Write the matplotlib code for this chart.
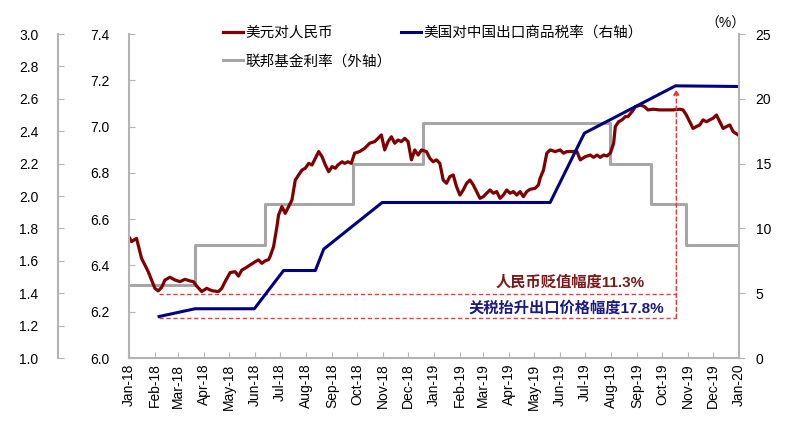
import pandas as pd
import numpy as np
import matplotlib
matplotlib.use("Agg")
import matplotlib.pyplot as plt
import matplotlib.dates as mdates

plt.rcParams['font.family'] = ['Liberation Sans', 'Noto Sans CJK SC', 'DejaVu Sans']
plt.rcParams['axes.unicode_minus'] = False

# USD/CNY (inner left axis)
cny_dates = [
    "2018-01-02", "2018-01-04", "2018-01-10", "2018-01-12", "2018-01-16", "2018-01-20", "2018-01-24",
    "2018-01-28", "2018-02-01", "2018-02-05", "2018-02-09", "2018-02-13", "2018-02-19", "2018-02-25",
    "2018-03-03", "2018-03-09", "2018-03-15", "2018-03-19", "2018-03-23", "2018-03-29", "2018-04-04",
    "2018-04-10", "2018-04-18", "2018-04-22", "2018-04-26", "2018-05-02", "2018-05-08", "2018-05-12",
    "2018-05-16", "2018-05-20", "2018-05-26", "2018-06-01", "2018-06-05", "2018-06-09", "2018-06-13",
    "2018-06-17", "2018-06-19", "2018-06-23", "2018-06-27", "2018-06-29", "2018-07-03", "2018-07-07",
    "2018-07-11", "2018-07-15", "2018-07-19", "2018-07-23", "2018-07-27", "2018-07-31", "2018-08-04",
    "2018-08-08", "2018-08-12", "2018-08-16", "2018-08-20", "2018-08-24", "2018-08-28", "2018-09-01",
    "2018-09-05", "2018-09-08", "2018-09-13", "2018-09-16", "2018-09-20", "2018-09-24", "2018-09-28",
    "2018-10-04", "2018-10-10", "2018-10-16", "2018-10-22", "2018-10-26", "2018-10-30", "2018-11-03",
    "2018-11-07", "2018-11-11", "2018-11-15", "2018-11-19", "2018-11-23", "2018-11-27", "2018-12-01",
    "2018-12-05", "2018-12-09", "2018-12-13", "2018-12-17", "2018-12-23", "2018-12-27", "2018-12-31",
    "2019-01-04", "2019-01-08", "2019-01-12", "2019-01-16", "2019-01-20", "2019-01-24", "2019-01-28",
    "2019-02-01", "2019-02-05", "2019-02-09", "2019-02-13", "2019-02-17", "2019-02-21", "2019-02-25",
    "2019-03-01", "2019-03-05", "2019-03-09", "2019-03-13", "2019-03-17", "2019-03-21", "2019-03-25",
    "2019-03-29", "2019-04-02", "2019-04-06", "2019-04-10", "2019-04-14", "2019-04-18", "2019-04-22",
    "2019-04-26", "2019-05-02", "2019-05-06", "2019-05-08", "2019-05-12", "2019-05-16", "2019-05-20",
    "2019-05-26", "2019-06-01", "2019-06-05", "2019-06-09", "2019-06-15", "2019-06-21", "2019-06-25",
    "2019-07-01", "2019-07-07", "2019-07-11", "2019-07-15", "2019-07-19", "2019-07-23", "2019-07-27",
    "2019-07-31", "2019-08-04", "2019-08-06", "2019-08-10", "2019-08-14", "2019-08-18", "2019-08-21",
    "2019-08-26", "2019-08-30", "2019-09-05", "2019-09-10", "2019-09-14", "2019-09-20", "2019-09-28",
    "2019-10-06", "2019-10-14", "2019-10-22", "2019-10-26", "2019-10-30", "2019-11-03", "2019-11-07",
    "2019-11-11", "2019-11-15", "2019-11-19", "2019-11-23", "2019-11-27", "2019-12-01", "2019-12-05",
    "2019-12-09", "2019-12-13", "2019-12-17", "2019-12-21", "2019-12-25", "2019-12-31",
]
cny_values = [
    6.517, 6.503, 6.517, 6.488, 6.431, 6.402, 6.373,
    6.337, 6.301, 6.290, 6.305, 6.337, 6.349, 6.337,
    6.330, 6.340, 6.333, 6.330, 6.311, 6.287, 6.301,
    6.291, 6.287, 6.301, 6.330, 6.369, 6.373, 6.354,
    6.380, 6.388, 6.402, 6.416, 6.424, 6.409, 6.420,
    6.425, 6.440, 6.481, 6.567, 6.618, 6.654, 6.625,
    6.654, 6.683, 6.769, 6.791, 6.812, 6.820, 6.841,
    6.834, 6.863, 6.892, 6.870, 6.834, 6.805, 6.827,
    6.820, 6.834, 6.848, 6.841, 6.848, 6.841, 6.885,
    6.892, 6.906, 6.928, 6.935, 6.949, 6.964, 6.899,
    6.935, 6.956, 6.928, 6.942, 6.935, 6.949, 6.935,
    6.856, 6.899, 6.877, 6.899, 6.892, 6.863, 6.848,
    6.856, 6.841, 6.769, 6.755, 6.784, 6.791, 6.740,
    6.704, 6.726, 6.755, 6.769, 6.748, 6.719, 6.690,
    6.697, 6.712, 6.726, 6.712, 6.719, 6.690, 6.704,
    6.726, 6.712, 6.719, 6.704, 6.719, 6.697, 6.719,
    6.729, 6.733, 6.748, 6.777, 6.812, 6.885, 6.899,
    6.892, 6.899, 6.885, 6.892, 6.892, 6.892, 6.856,
    6.870, 6.877, 6.867, 6.877, 6.867, 6.877, 6.873,
    6.885, 6.928, 7.000, 7.021, 7.029, 7.043, 7.043,
    7.064, 7.086, 7.093, 7.086, 7.072, 7.075, 7.072,
    7.072, 7.072, 7.075, 7.072, 7.050, 7.021, 6.992,
    7.000, 7.007, 7.029, 7.021, 7.029, 7.036, 7.050,
    7.021, 6.992, 7.000, 7.007, 6.978, 6.964,
]

# US tariff rate on Chinese goods (right axis, %)
tariff_dates = ["2018-02-06", "2018-03-21", "2018-05-31", "2018-07-05", "2018-08-12", "2018-08-22",
                "2018-10-31", "2019-05-20", "2019-06-30", "2019-10-17", "2019-12-31"]
tariff_values = [3.2, 3.8, 3.8, 6.75, 6.75, 8.4, 12.0, 12.0, 17.35, 21.0, 20.95]

# Fed funds rate (outer left axis, %)
fed_dates = ["2018-01-01", "2018-03-21", "2018-06-13", "2018-09-26", "2018-12-19",
             "2019-07-31", "2019-09-18", "2019-10-30", "2019-12-31"]
fed_values = [1.45, 1.70, 1.95, 2.20, 2.45, 2.20, 1.95, 1.70, 1.70]

# annotation levels
cny_low = 6.277
tariff_low = 3.06
mark_start = "2018-02-06"
mark_end = "2019-10-18"
label_cny = "人民币贬值幅度11.3%"
label_tariff = "关税抬升出口价格幅度17.8%"

cny_dates = pd.to_datetime(cny_dates)
tariff_dates = pd.to_datetime(tariff_dates)
fed_dates = pd.to_datetime(fed_dates)

RED = "#7f0000"
BLUE = "#000080"
GRAY = "#a6a6a6"
SPINE = "#b3b3b3"
DASH = "#e8383b"

fig = plt.figure(figsize=(8.11, 4.28), dpi=100)
rect = [129 / 811, 1 - 358 / 428, 610 / 811, 324 / 428]
ax = fig.add_axes(rect)
ax_g = ax.twinx()
ax_t = ax.twinx()

ax_g.set_zorder(1)
ax.set_zorder(2)
ax_t.set_zorder(3)
ax.patch.set_visible(False)

# lines
l_g, = ax_g.step(fed_dates, fed_values, where='post', color=GRAY, lw=2.2)
l_r, = ax.plot(cny_dates, cny_values, color=RED, lw=2.3)
l_b, = ax_t.plot(tariff_dates, tariff_values, color=BLUE, lw=2.2)

# annotation dashed lines
x0, x1 = pd.Timestamp(mark_start), pd.Timestamp(mark_end)
ax.plot([x0, x1], [cny_low, cny_low], color=DASH, lw=1, ls=(0, (3, 2)))
ax_t.plot([x0, x1], [tariff_low, tariff_low], color=DASH, lw=1, ls=(0, (3, 2)))
ax_t.annotate('', xy=(x1, 20.75), xytext=(x1, tariff_low),
              arrowprops=dict(arrowstyle='-|>', color=DASH, lw=1, ls=(0, (3, 2)),
                              mutation_scale=8, shrinkA=0, shrinkB=0))
ax.text(pd.Timestamp("2019-09-10"), 6.328, label_cny, color="#7b1a1a", fontsize=11,
        fontweight='bold', ha='right', va='center')
ax_t.text(pd.Timestamp("2019-10-04"), 3.85, label_tariff, color="#1a1a80", fontsize=11,
          fontweight='bold', ha='right', va='center')

# x axis
ax.set_xlim(pd.Timestamp("2018-01-01"), pd.Timestamp("2020-01-01"))
ax.xaxis.set_major_locator(mdates.MonthLocator())
ax.xaxis.set_major_formatter(mdates.DateFormatter('%b-%y'))
ax.tick_params(axis='x', direction='in', length=4, color=SPINE, rotation=90, labelsize=10, pad=4)

# inner left axis
ax.set_ylim(6.0, 7.4)
ax.set_yticks(np.arange(6.0, 7.41, 0.2))
ax.yaxis.set_major_formatter(plt.FormatStrFormatter('%.1f'))
ax.tick_params(axis='y', direction='in', length=4, color=SPINE, labelsize=10, pad=14)

# outer left axis
ax_g.set_ylim(1.0, 3.0)
ax_g.set_yticks(np.arange(1.0, 3.01, 0.2))
ax_g.yaxis.set_major_formatter(plt.FormatStrFormatter('%.1f'))
ax_g.yaxis.tick_left()
ax_g.spines['left'].set_position(('axes', -71 / 610))
ax_g.spines['left'].set_visible(True)
ax_g.tick_params(axis='y', direction='in', length=4, color=SPINE, labelsize=10, pad=14)

# right axis
ax_t.set_ylim(0, 25)
ax_t.set_yticks(np.arange(0, 26, 5))
ax_t.tick_params(axis='y', direction='out', length=4, color=SPINE, labelsize=10, pad=8)

for a in (ax, ax_g, ax_t):
    a.spines['top'].set_visible(False)
    for s in a.spines.values():
        s.set_color(SPINE)
        s.set_linewidth(1.5)
ax.spines['right'].set_visible(False)
ax_g.spines['right'].set_visible(False)
ax_g.spines['bottom'].set_visible(False)
ax_t.spines['left'].set_visible(False)
ax_t.spines['bottom'].set_visible(False)

fig.text(725 / 811, 1 - 24 / 428, '（%）', fontsize=10, ha='center', va='center')

fig.legend([l_r, l_g, l_b], ['美元对人民币', '联邦基金利率（外轴）', '美国对中国出口商品税率（右轴）'],
           ncol=2, loc='upper left', bbox_to_anchor=(223 / 811, 1 - 26 / 428), frameon=False,
           fontsize=10.5, handlelength=1.4, handletextpad=0.15, columnspacing=0.6,
           labelspacing=1.0, borderpad=0, borderaxespad=0)

fig.savefig("out.png", dpi=100)
